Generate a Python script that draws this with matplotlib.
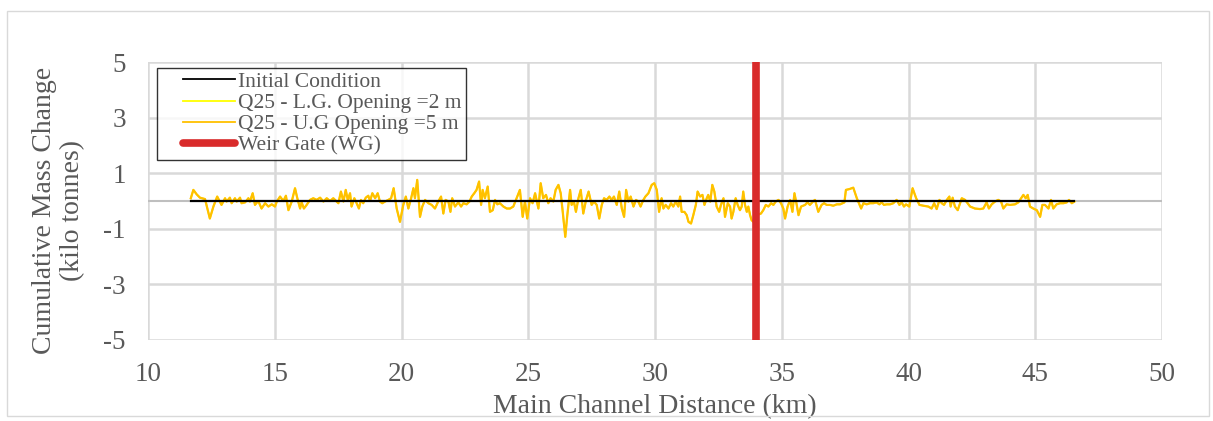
import matplotlib
matplotlib.use("Agg")
import matplotlib.pyplot as plt
from matplotlib.patches import Rectangle
from matplotlib.lines import Line2D
from matplotlib.legend_handler import HandlerLine2D

# ---- data ----
dist_km = [11.69, 11.79, 11.92, 12.05, 12.25, 12.44, 12.58, 12.73, 12.90, 13.04, 13.10, 13.23, 13.30, 13.43,
           13.50, 13.63, 13.69, 13.83, 13.96, 14.02, 14.13, 14.22, 14.35, 14.48, 14.62, 14.75, 14.88, 15.01,
           15.08, 15.21, 15.34, 15.44, 15.54, 15.67, 15.80, 15.89, 16.00, 16.06, 16.15, 16.26, 16.39, 16.52,
           16.65, 16.79, 16.92, 17.05, 17.18, 17.31, 17.44,
           17.51, 17.61, 17.71, 17.80, 17.88, 17.97, 18.03, 18.14, 18.23, 18.32, 18.40, 18.49, 18.59, 18.69,
           18.76, 18.85, 18.96, 19.06, 19.15, 19.24, 19.35, 19.48, 19.59, 19.69, 19.81, 19.94, 20.07, 20.17,
           20.27, 20.38, 20.47, 20.53, 20.62, 20.73, 20.82, 20.93, 21.06, 21.19, 21.32, 21.45, 21.56, 21.65,
           21.74, 21.85, 21.93, 22.00, 22.11, 22.24, 22.35, 22.44, 22.57, 22.68, 22.77, 22.87, 22.96, 23.06,
           23.14, 23.20, 23.29, 23.40, 23.49,
           23.60, 23.69, 23.78, 23.88, 24.02, 24.15, 24.28, 24.41, 24.54, 24.67, 24.78, 24.87, 24.96, 25.07,
           25.17, 25.27, 25.40, 25.49, 25.59, 25.70, 25.79, 25.88, 25.99, 26.08, 26.19, 26.28, 26.36, 26.46,
           26.54, 26.65, 26.71, 26.80, 26.88, 26.98, 27.07, 27.17, 27.28, 27.38, 27.50, 27.59, 27.70, 27.80,
           27.90, 27.99, 28.09, 28.20, 28.29, 28.38, 28.49, 28.59, 28.69, 28.78, 28.86, 28.95, 29.04, 29.15,
           29.25, 29.34, 29.43, 29.54, 29.62,
           29.74, 29.87, 29.97, 30.07, 30.16, 30.26, 30.33, 30.42, 30.53, 30.63, 30.72, 30.82, 30.92, 30.99,
           31.05, 31.16, 31.25, 31.32, 31.42, 31.51, 31.61, 31.68, 31.78, 31.87, 31.95, 32.04, 32.10, 32.18,
           32.26, 32.34, 32.43, 32.53, 32.60, 32.70, 32.76, 32.87, 32.96, 33.02, 33.09, 33.18, 33.26, 33.35,
           33.42, 33.48, 33.55, 33.62, 33.68, 33.75, 33.81, 33.88, 34.01, 34.18, 34.27, 34.37, 34.47, 34.58,
           34.67, 34.76, 34.87, 34.97, 35.06, 35.13, 35.23, 35.33, 35.42, 35.50, 35.59, 35.66, 35.76,
           35.92, 36.01, 36.11, 36.25, 36.31, 36.44, 36.57, 36.67, 36.77, 36.90, 37.03, 37.17, 37.30, 37.40,
           37.47, 37.53, 37.67, 37.82, 37.96, 38.13, 38.22, 38.35, 38.48, 38.61, 38.74, 38.85, 38.94, 39.03,
           39.14, 39.27, 39.40, 39.53, 39.64, 39.73, 39.82, 39.90, 40.03, 40.16, 40.30, 40.43, 40.59, 40.78,
           40.91, 41.01, 41.11, 41.22, 41.31, 41.40, 41.51, 41.61, 41.66, 41.74, 41.83,
           41.94, 42.10, 42.23, 42.43, 42.62, 42.82, 42.95, 43.08, 43.17, 43.28, 43.41, 43.54, 43.65, 43.74,
           43.87, 44.00, 44.20, 44.33, 44.44, 44.53, 44.62, 44.70, 44.79, 44.92, 45.06, 45.19, 45.28, 45.38,
           45.52, 45.62, 45.71, 45.84, 45.98, 46.11, 46.24, 46.33, 46.44, 46.54]

mass_ug = [0.10, 0.40, 0.24, 0.12, 0.07, -0.63, -0.20, 0.16, -0.14, 0.10, -0.02, 0.12, -0.08, 0.10,
           -0.02, 0.12, -0.08, -0.05, 0.10, -0.02, 0.28, -0.14, 0.00, -0.27, -0.08, -0.20, -0.12, -0.20,
           -0.02, 0.16, 0.00, 0.19, -0.33, -0.02, 0.46, 0.10, -0.27, -0.05, -0.27, -0.14, 0.04, 0.10,
           0.04, 0.12, -0.02, 0.10, 0.00, 0.10, -0.02,
           -0.08, 0.34, -0.02, 0.40, 0.04, 0.28, -0.20, 0.10, -0.08, -0.27, 0.04, -0.08, 0.12, 0.19,
           0.00, 0.28, 0.10, 0.28, -0.02, -0.08, -0.02, 0.04, 0.10, 0.46, -0.27, -0.75, -0.14, 0.16,
           -0.27, 0.10, 0.46, 0.10, 0.76, -0.57, -0.20, 0.04, -0.08, -0.14, -0.27, -0.02, 0.16, -0.45,
           0.04, -0.02, -0.39, 0.10, -0.20, -0.05, -0.20, -0.08, -0.12, -0.02, 0.16, 0.28, 0.40, 0.70,
           -0.14, 0.40, 0.10, 0.52, -0.39,
           -0.33, 0.04, -0.12, -0.08, -0.20, -0.27, -0.27, -0.20, 0.10, 0.40, -0.57, -0.02, -0.63, 0.10,
           -0.08, 0.28, -0.27, 0.64, 0.10, 0.22, -0.08, 0.10, -0.02, 0.40, 0.58, 0.28, -0.39, -1.29,
           -0.51, 0.40, -0.14, -0.02, -0.39, 0.10, 0.40, -0.45, 0.04, 0.34, -0.14, -0.02, -0.14, -0.63,
           -0.14, 0.10, 0.04, 0.16, 0.04, 0.16, -0.14, 0.34, -0.27, -0.57, 0.40, -0.02, 0.16, -0.20,
           0.04, -0.02, -0.20, 0.04, 0.16,
           0.28, 0.58, 0.64, 0.40, -0.39, 0.10, -0.27, -0.14, -0.27, -0.08, -0.20, -0.02, -0.20, 0.16,
           -0.39, -0.39, -0.51, -0.75, -0.81, -0.51, -0.14, 0.34, 0.16, 0.22, -0.14, 0.10, 0.22, -0.02,
           0.58, 0.34, -0.20, -0.39, -0.14, 0.10, -0.57, -0.08, -0.20, -0.63, -0.39, 0.10, -0.14, -0.33,
           -0.20, 0.34, -0.14, -0.39, -0.20, -0.51, -0.69, -0.75, -0.51, -0.45, -0.33, -0.14, -0.20, -0.08,
           -0.14, -0.02, 0.04, -0.08, -0.27, -0.63, -0.20, 0.04, -0.39, 0.28, -0.14, -0.51, -0.20,
           -0.14, -0.05, -0.14, 0.00, 0.04, -0.39, -0.14, -0.08, -0.14, -0.14, -0.17, -0.12, -0.12, -0.08,
           -0.05, 0.40, 0.43, 0.48, 0.10, -0.27, -0.08, -0.12, -0.08, -0.08, -0.05, -0.12, -0.05, -0.14,
           -0.12, -0.12, -0.08, 0.04, -0.14, -0.05, -0.20, -0.12, -0.20, 0.46, 0.10, -0.14, -0.17, -0.20,
           -0.27, -0.08, -0.29, 0.04, -0.08, -0.14, 0.04, 0.16, -0.20, 0.12, -0.20,
           -0.33, 0.10, 0.04, -0.20, -0.27, -0.29, -0.27, -0.05, -0.27, -0.12, -0.02, 0.04, -0.02, -0.27,
           -0.12, -0.14, -0.12, -0.05, 0.10, 0.22, 0.10, 0.22, -0.20, -0.27, -0.33, -0.57, -0.14, -0.14,
           -0.27, 0.04, -0.27, -0.12, -0.08, -0.08, -0.05, 0.04, -0.08, -0.02]

mass_lg = list(mass_ug)

initial_x = [11.69, 46.54]
initial_y = [0.0, 0.0]

weir_x = 34.0
weir_y = [-5, 5]

x_ticks = [10, 15, 20, 25, 30, 35, 40, 45, 50]
y_ticks = [5, 3, 1, -1, -3, -5]

labels = ["Initial Condition", "Q25 - L.G. Opening =2 m", "Q25 - U.G Opening =5 m", "Weir Gate (WG)"]

# ---- style ----
plt.rcParams['font.family'] = ['Liberation Serif', 'DejaVu Serif']
plt.rcParams['axes.unicode_minus'] = False
txt = '#595959'
grid_c = '#d9d9d9'


class ShortHandler(HandlerLine2D):
    """Legend line that leaves a blank gap on its left side."""
    def create_artists(self, legend, orig_handle, xdescent, ydescent, width, height, fontsize, trans):
        arts = super().create_artists(legend, orig_handle, xdescent, ydescent, width, height,
                                      fontsize, trans)
        for a in arts:
            xd = list(a.get_xdata())
            if len(xd) >= 2:
                x0, x1 = min(xd), max(xd)
                span = x1 - x0
                a.set_xdata([x0 + 0.30 * span + (x - x0) * 0.70 for x in xd])
        return arts


fig = plt.figure(figsize=(12.13, 4.21), dpi=100)
fig.patches.append(Rectangle((0.006, 0.012), 0.991, 0.963, transform=fig.transFigure,
                             fill=False, edgecolor='#d9d9d9', linewidth=1.0))
ax = fig.add_axes([0.122, 0.1924, 0.836, 0.6603])

ax.set_xlim(10, 50)
ax.set_ylim(-5, 5)
ax.set_xticks(x_ticks)
ax.set_yticks(y_ticks)
ax.grid(True, color=grid_c, linewidth=1.8)
ax.set_axisbelow(True)
for s in ax.spines.values():
    s.set_visible(False)
ax.tick_params(length=0, labelsize=19.5, colors=txt)
ax.tick_params(axis='y', pad=16)
ax.tick_params(axis='x', pad=16)

ax.axhline(0, color='#bfbfbf', linewidth=1.5, zorder=1)

ax.plot(initial_x, initial_y, color='black', linewidth=1.6, zorder=3, label=labels[0])
ax.plot(dist_km, mass_lg, color='#FFFF00', linewidth=1.3, zorder=2, label=labels[1])
ax.plot(dist_km, mass_ug, color='#FFC000', linewidth=1.6, zorder=2.5, label=labels[2])
ax.plot([weir_x, weir_x], weir_y, color='#D92B2B', linewidth=5.5, zorder=4,
        solid_capstyle='butt', label=labels[3])

ax.set_xlabel("Main Channel Distance (km)", fontsize=20, color=txt, labelpad=5)
ax.set_ylabel("Cumulative Mass Change\n(kilo tonnes)", fontsize=20, color=txt,
              linespacing=1.15)
ax.yaxis.set_label_coords(-0.062, 0.465)

handles = [Line2D([], [], color='black', linewidth=1.3),
           Line2D([], [], color='#FFFF00', linewidth=1.3),
           Line2D([], [], color='#FFC000', linewidth=1.3),
           Line2D([], [], color='#D92B2B', linewidth=5.5, solid_capstyle='round')]
leg = ax.legend(handles, labels, loc='upper left', bbox_to_anchor=(0.009, 0.98),
                fontsize=15.5, frameon=True, fancybox=False, handlelength=3.4,
                handletextpad=0.15, borderpad=0.2, labelspacing=0.05, borderaxespad=0,
                handler_map={Line2D: ShortHandler()})
leg.get_frame().set_edgecolor('black')
leg.get_frame().set_linewidth(1.0)
for t in leg.get_texts():
    t.set_color(txt)

fig.savefig("out.png", dpi=100)
